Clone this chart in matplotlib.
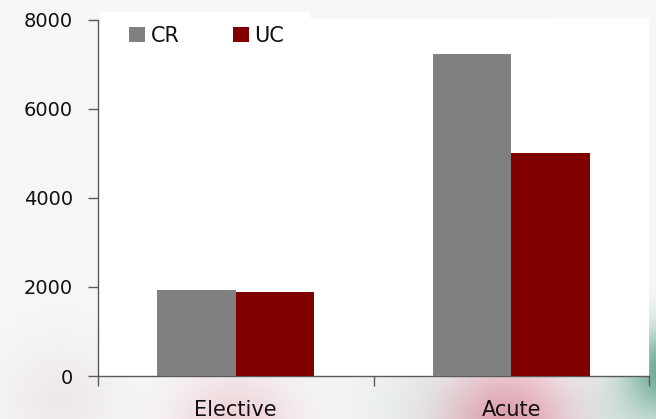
#!/usr/bin/env python3

import numpy as np
import matplotlib
matplotlib.use('Agg')
import matplotlib.pyplot as plt
from matplotlib.patches import Rectangle

# data
categories = ['Elective', 'Acute']
series_names = ['CR', 'UC']
cr_values = [1930, 7240]
uc_values = [1885, 5000]
y_ticks = [0, 2000, 4000, 6000, 8000]

colors = ['#808080', '#800000']

W, H = 656, 419
fig = plt.figure(figsize=(W / 100, H / 100), dpi=100, facecolor='#f7f7f7')


def fx(px):
    return px / W


def fy(py):
    return 1 - py / H


# soft decorative background blobs (pink circles, teal corner)
bg = fig.add_axes([0, 0, 1, 1], zorder=-10)
bg.set_axis_off()
yy, xx = np.mgrid[0:H, 0:W]
img = np.ones((H, W, 3)) * (247 / 255)


def blob(cx, cy, r, rgb, strength):
    d = np.exp(-(((xx - cx) ** 2 + (yy - cy) ** 2) / (2 * r ** 2)))
    a = (d * strength)[..., None]
    return a * np.array(rgb) / 255 + (1 - a)


for cx, cy, r, rgb, s in [(235, 432, 42, (235, 175, 185), 0.5),
                          (508, 425, 45, (230, 150, 168), 0.85),
                          (630, 415, 40, (210, 232, 224), 0.7),
                          (670, 370, 30, (100, 170, 145), 0.95),
                          (420, 410, 50, (222, 236, 230), 0.5),
                          (60, 400, 40, (238, 225, 228), 0.5)]:
    img = img * blob(cx, cy, r, rgb, s)
bg.imshow(np.clip(img, 0, 1), extent=[0, 1, 0, 1], aspect='auto')

# plot area
left, right, top0, top, base = 98, 649, 17.7, 19.7, 376
ax = fig.add_axes([fx(left), fy(base), fx(right - left), fy(top0) - fy(base)])
ax.set_facecolor('white')

x = np.arange(len(categories))
w = 0.285
ax.bar(x - w / 2, cr_values, w, color=colors[0], label=series_names[0], zorder=3)
ax.bar(x + w / 2, uc_values, w, color=colors[1], label=series_names[1], zorder=3)

ytop = 8000 * (base - top0) / (base - top)
ax.set_ylim(0, ytop)
ax.set_xlim(-0.5, len(categories) - 0.5)

for s in ['top', 'right']:
    ax.spines[s].set_visible(False)
for s in ['left', 'bottom']:
    ax.spines[s].set_color('#5a5a5a')
    ax.spines[s].set_linewidth(1.0)
ax.spines['left'].set_bounds(0, 8000)

ax.set_yticks(y_ticks)
ax.set_yticklabels([str(v) for v in y_ticks], fontsize=14, color='#111111')
ax.tick_params(axis='y', direction='out', length=7, width=1, color='#5a5a5a', pad=11)

ax.set_xticks(x)
ax.set_xticklabels(categories, fontsize=15, color='#111111')
ax.set_xticks([-0.5, 0.5, 1.5], minor=True)
ax.tick_params(axis='x', which='major', length=0, pad=17)
ax.tick_params(axis='x', which='minor', direction='out', length=7, width=1, color='#5a5a5a')

# legend with its white box poking above the plot area
fig.patches.append(Rectangle((fx(101), fy(40)), fx(310 - 101), fy(12) - fy(40),
                             transform=fig.transFigure, facecolor='white',
                             edgecolor='none', zorder=-5))
leg = fig.legend(loc='upper left', bbox_to_anchor=(fx(129), fy(25.5)), ncol=2,
                 frameon=False, fontsize=15, handlelength=0.77, handleheight=0.75,
                 handletextpad=0.26, columnspacing=2.58, borderaxespad=0,
                 borderpad=0)
for t in leg.get_texts():
    t.set_color('#111111')

fig.savefig('out.png', dpi=100, facecolor=fig.get_facecolor())
